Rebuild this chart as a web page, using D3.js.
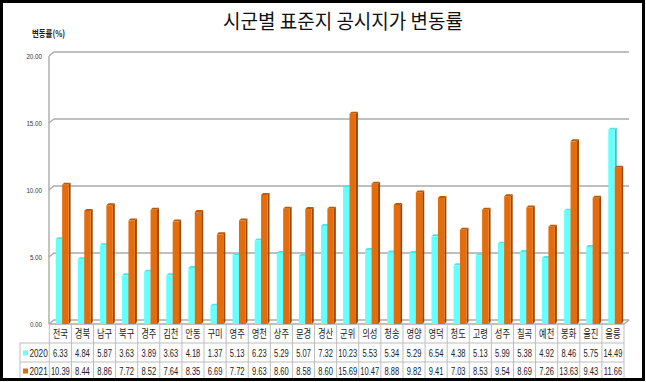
<!DOCTYPE html>
<html>
<head>
<meta charset="utf-8">
<script src="https://cdn.jsdelivr.net/npm/d3@7"></script>
<style>
  body { margin: 0; background: #fff; }
  #chart { width: 646px; height: 382px; }
</style>
</head>
<body>
<div id="chart"></div>
<script>

var categories = ["전국", "경북", "남구", "북구", "경주", "김천", "안동", "구미", "영주", "영천", "상주", "문경", "경산",
                  "군위", "의성", "청송", "영양", "영덕", "청도", "고령", "성주", "칠곡", "예천", "봉화", "울진", "울릉"];
var values2020 = [6.33, 4.84, 5.87, 3.63, 3.89, 3.63, 4.18, 1.37, 5.13, 6.23, 5.29, 5.07, 7.32,
                  10.23, 5.53, 5.34, 5.29, 6.54, 4.38, 5.13, 5.99, 5.38, 4.92, 8.46, 5.75, 14.49];
var values2021 = [10.39, 8.44, 8.86, 7.72, 8.52, 7.64, 8.35, 6.69, 7.72, 9.63, 8.60, 8.58, 8.60,
                  15.69, 10.47, 8.88, 9.82, 9.41, 7.03, 8.53, 9.54, 8.69, 7.26, 13.63, 9.43, 11.66];
var seriesNames = ["2020", "2021"];
var yTicks = [0, 5, 10, 15, 20];

var chartTitle = "시군별 표준지 공시지가 변동률";
var yTitle = "변동률(%)";

var numFont = "'Liberation Sans', Arial, sans-serif";
var korFont = "'Noto Sans CJK KR', sans-serif";

var barChart = {

    draw : function(divId) {

        var w = 646, h = 382;
        var dx = 5, dy = -4;   // depth of the 3d walls
        var series = [values2020, values2021];
        var colors = [
            { front: "#66FFFF", side: "#36C4C4", top: "#4EE6E6" },
            { front: "#E46C0A", side: "#9A4806", top: "#B9590A" }
        ];

        var svg = d3.select(divId).append("svg")
            .attr("width", w)
            .attr("height", h);

        svg.append("rect")
            .attr("width", w).attr("height", h)
            .attr("fill", "#fff");

        var x = d3.scaleBand().domain(categories).range([49.3, 624]).paddingInner(0);
        var xs = d3.scaleBand().domain(seriesNames).range([6.4, 19.3]);
        var y = d3.scaleLinear().domain([0, 20]).range([324, 56]);

        // walls and grid
        var grid = svg.append("g")
            .attr("fill", "none")
            .attr("stroke", "#ABABAB")
            .attr("stroke-width", 1.4);

        yTicks.forEach(function(t) {
            grid.append("path")
                .attr("d", "M49," + y(t) + "L" + (49 + dx) + "," + (y(t) + dy) + "H629");
        });
        grid.append("path").attr("d", "M49," + y(20) + "V" + y(0));
        grid.append("path")
            .attr("d", "M49," + y(0) + "H624L629," + (y(0) + dy));

        // y tick labels (narrowed with a horizontal scale)
        svg.append("g").selectAll("text")
            .data(yTicks)
            .join("text")
            .attr("transform", function(d) { return "translate(42," + y(d) + ") scale(0.78,1)"; })
            .attr("dy", "0.35em")
            .attr("text-anchor", "end")
            .attr("font-family", numFont)
            .attr("font-size", "8px")
            .attr("fill", "#333")
            .text(function(d) { return d.toFixed(2); });

        // 3d bars
        series.forEach(function(vals, s) {
            var g = svg.append("g");
            var bw = xs.bandwidth(), d = 2;
            vals.forEach(function(v, i) {
                var x0 = x(categories[i]) + xs(seriesNames[s]);
                var yt = y(v), yb = y(0);
                g.append("path")
                    .attr("d", "M" + (x0 + bw) + "," + yt + "l" + d + "," + (-d) + "V" + (yb - d) + "l" + (-d) + "," + d + "Z")
                    .attr("fill", colors[s].side);
                g.append("path")
                    .attr("d", "M" + x0 + "," + yt + "l" + d + "," + (-d) + "h" + bw + "l" + (-d) + "," + d + "Z")
                    .attr("fill", colors[s].top);
                g.append("rect")
                    .attr("x", x0)
                    .attr("y", yt)
                    .attr("width", bw)
                    .attr("height", yb - yt)
                    .attr("fill", colors[s].front);
            });
        });

        // data table
        var tbl = svg.append("g")
            .attr("stroke", "#BDBDBD")
            .attr("stroke-width", 1)
            .attr("fill", "none");
        var rowTop = 343, rowMid = 362, rowBot = 379;
        tbl.append("path").attr("d", "M20," + rowTop + "H624M20," + rowMid + "H624M20," + rowTop + "V" + rowBot);
        categories.concat(["end"]).forEach(function(c, i) {
            var xx = i < categories.length ? x(c) : x.range()[1];
            tbl.append("path").attr("d", "M" + xx + "," + y(0) + "V" + rowBot);
        });

        svg.append("g").selectAll("text")
            .data(categories)
            .join("text")
            .attr("transform", function(d) { return "translate(" + (x(d) + x.bandwidth() / 2) + ",334) scale(0.72,1)"; })
            .attr("dy", "0.35em")
            .attr("text-anchor", "middle")
            .attr("font-family", korFont)
            .attr("font-size", "11.5px")
            .attr("fill", "#222")
            .text(function(d) { return d; });

        var rowY = [353, 371];
        series.forEach(function(vals, s) {
            svg.append("g").selectAll("text")
                .data(vals)
                .join("text")
                .attr("transform", function(d, i) {
                    return "translate(" + (x(categories[i]) + x.bandwidth() / 2) + "," + rowY[s] + ") scale(0.72,1)";
                })
                .attr("dy", "0.35em")
                .attr("text-anchor", "middle")
                .attr("font-family", numFont)
                .attr("font-size", "10.5px")
                .attr("fill", "#222")
                .text(function(d) { return d.toFixed(2); });

            svg.append("rect")
                .attr("x", 23).attr("y", rowY[s] - 2.5)
                .attr("width", 5).attr("height", 5)
                .attr("fill", colors[s].front);
            svg.append("text")
                .attr("transform", "translate(29.5," + rowY[s] + ") scale(0.78,1)")
                .attr("dy", "0.35em")
                .attr("font-family", numFont)
                .attr("font-size", "10.5px")
                .attr("fill", "#222")
                .text(seriesNames[s]);
        });

        // titles
        svg.append("text")
            .attr("x", 343)
            .attr("y", 22)
            .attr("dy", "0.35em")
            .attr("text-anchor", "middle")
            .attr("font-family", korFont)
            .attr("font-size", "20px")
            .attr("fill", "#111")
            .attr("textLength", 240)
            .attr("lengthAdjust", "spacingAndGlyphs")
            .text(chartTitle);

        svg.append("text")
            .attr("transform", "translate(32,34) scale(0.78,1)")
            .attr("dy", "0.35em")
            .attr("font-family", korFont)
            .attr("font-size", "9.5px")
            .attr("font-weight", "bold")
            .attr("fill", "#222")
            .text(yTitle);

        // outer frame
        svg.append("rect")
            .attr("x", 1.5).attr("y", 1.5)
            .attr("width", w - 4).attr("height", h - 4)
            .attr("fill", "none")
            .attr("stroke", "#000")
            .attr("stroke-width", 3);
    }
};

barChart.draw("#chart");
</script>
</body>
</html>
